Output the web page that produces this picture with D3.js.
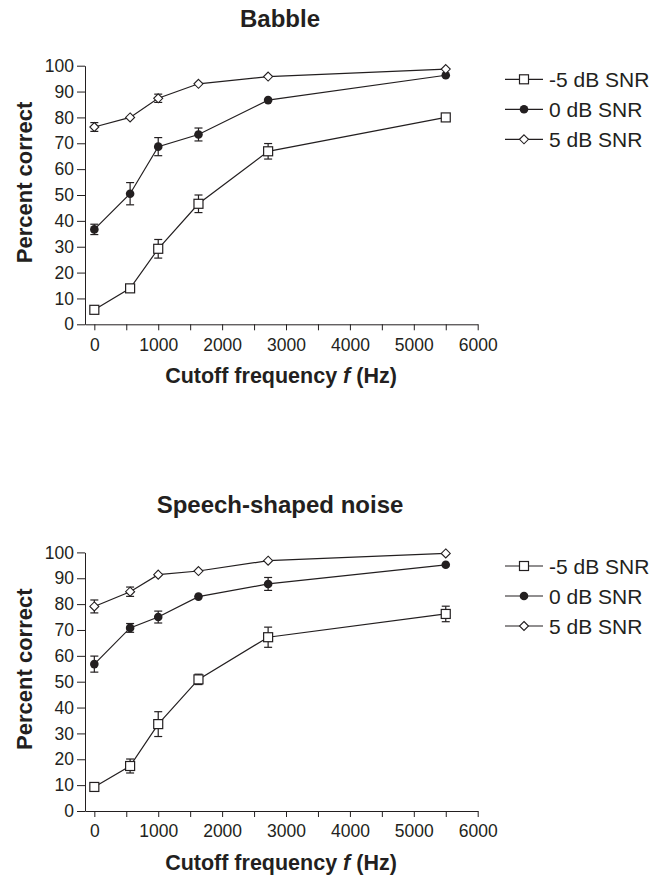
<!DOCTYPE html>
<html lang="en">
<head>
<meta charset="UTF-8">
<title>Percent correct vs cutoff frequency</title>
<style>
  body { margin: 0; background: #fff; }
  svg text { font-family: "Liberation Sans", Arial, sans-serif; fill: #231f20; }
  .axis path, .axis line { stroke: #231f20; stroke-width: 1px; }
  .series { fill: none; stroke: #231f20; stroke-width: 1.2px; }
  .err { stroke: #231f20; stroke-width: 1.2px; }
</style>
</head>
<body>
<div id="chart"></div>
<script src="https://d3js.org/d3.v7.min.js"></script>
<script>
// cutoff frequencies (Hz)
var freqs = [0, 560, 1000, 1630, 2720, 5500];
var seriesNames = ["-5 dB SNR", "0 dB SNR", "5 dB SNR"];
var panelTitles = ["Babble", "Speech-shaped noise"];
var yTicks = [0, 10, 20, 30, 40, 50, 60, 70, 80, 90, 100];
var xTicks = [0, 500, 1000, 1500, 2000, 2500, 3000, 3500, 4000, 4500, 5000, 5500, 6000];

// Babble
var babbleM5 = [5.6, 13.9, 29.2, 46.6, 66.9, 80.0];
var babbleM5Err = [0.8, 1.0, 3.6, 3.4, 3.0, 1.0];
var babble0 = [36.7, 50.5, 68.7, 73.4, 86.7, 96.3];
var babble0Err = [2.0, 4.3, 3.5, 2.5, 0, 0];
var babble5 = [76.3, 80.0, 87.4, 93.0, 95.8, 98.7];
var babble5Err = [1.7, 0, 1.6, 0, 0, 0];

// Speech-shaped noise
var ssnM5 = [9.3, 17.4, 33.6, 50.9, 67.2, 76.2];
var ssnM5Err = [0, 2.7, 4.8, 2.0, 3.9, 3.0];
var ssn0 = [56.8, 70.8, 75.0, 82.9, 87.8, 95.2];
var ssn0Err = [3.1, 1.7, 2.3, 0, 2.5, 0];
var ssn5 = [79.1, 84.8, 91.4, 92.8, 96.8, 99.6];
var ssn5Err = [2.5, 1.8, 0, 0, 0, 0];

var panels = [
    { title: panelTitles[0], means: [babbleM5, babble0, babble5], errs: [babbleM5Err, babble0Err, babble5Err] },
    { title: panelTitles[1], means: [ssnM5, ssn0, ssn5], errs: [ssnM5Err, ssn0Err, ssn5Err] }
];

var W = 652, H = 877;
var svg = d3.select("#chart").append("svg")
    .attr("width", W)
    .attr("height", H);

var x = d3.scaleLinear().domain([-146, 6000]).range([85, 477.7]);
var plotTop = 65.7, plotBottom = 324.3, panelOffset = 486.7;

function drawMarker(sel, k) {
    if (k === 0) {
        sel.append("rect")
            .attr("x", -4.5).attr("y", -4.5)
            .attr("width", 9).attr("height", 9)
            .attr("fill", "#fff").attr("stroke", "#231f20").attr("stroke-width", 1.2);
    } else if (k === 1) {
        sel.append("circle")
            .attr("r", 4.3)
            .attr("fill", "#231f20");
    } else {
        sel.append("path")
            .attr("d", "M0,-4.5L4.5,0L0,4.5L-4.5,0Z")
            .attr("fill", "#fff").attr("stroke", "#231f20").attr("stroke-width", 1.1);
    }
}

panels.forEach(function (p, pi) {
    var g = svg.append("g").attr("transform", "translate(0," + (pi * panelOffset) + ")");
    var y = d3.scaleLinear().domain([0, 100]).range([plotBottom, plotTop]);

    // title
    g.append("text")
        .attr("x", 280).attr("y", 26.7)
        .attr("text-anchor", "middle")
        .style("font-size", "24px").style("font-weight", "bold")
        .text(p.title);

    // axes
    g.append("g")
        .attr("class", "axis")
        .attr("transform", "translate(85,0)")
        .call(d3.axisLeft(y).tickValues(yTicks).tickSize(8).tickPadding(3).tickSizeOuter(0))
        .selectAll("text").style("font-size", "17.5px");

    g.append("g")
        .attr("class", "axis")
        .attr("transform", "translate(0," + plotBottom + ")")
        .call(d3.axisBottom(x).tickValues(xTicks).tickSize(6).tickPadding(8).tickSizeOuter(0)
            .tickFormat(function (d) { return d % 1000 === 0 ? d : ""; }))
        .selectAll("text").style("font-size", "17.5px");

    g.selectAll(".axis .domain").attr("stroke", "#231f20");

    // axis titles
    g.append("text")
        .attr("transform", "rotate(-90)")
        .attr("x", -182.5).attr("y", 32)
        .attr("text-anchor", "middle")
        .style("font-size", "22px").style("font-weight", "bold")
        .text("Percent correct");

    var xt = g.append("text")
        .attr("x", 281).attr("y", 383.3)
        .attr("text-anchor", "middle")
        .style("font-size", "21.5px").style("font-weight", "bold");
    xt.append("tspan").text("Cutoff frequency ");
    xt.append("tspan").style("font-style", "italic").text("f");
    xt.append("tspan").text(" (Hz)");

    var line = d3.line()
        .x(function (d) { return x(d.f); })
        .y(function (d) { return y(d.m); });

    p.means.forEach(function (means, k) {
        var pts = freqs.map(function (f, i) {
            return { f: f, m: means[i], e: p.errs[k][i] };
        });

        g.append("path")
            .datum(pts)
            .attr("class", "series")
            .attr("d", line);

        // error bars
        var eb = g.selectAll(".eb" + k)
            .data(pts.filter(function (d) { return d.e > 0; }))
            .enter().append("g");
        eb.append("line").attr("class", "err")
            .attr("x1", function (d) { return x(d.f); })
            .attr("x2", function (d) { return x(d.f); })
            .attr("y1", function (d) { return y(d.m - d.e); })
            .attr("y2", function (d) { return y(d.m + d.e); });
        [-1, 1].forEach(function (s) {
            eb.append("line").attr("class", "err")
                .attr("x1", function (d) { return x(d.f) - 4; })
                .attr("x2", function (d) { return x(d.f) + 4; })
                .attr("y1", function (d) { return y(d.m + s * d.e); })
                .attr("y2", function (d) { return y(d.m + s * d.e); });
        });

        g.selectAll(".mk" + k)
            .data(pts)
            .enter().append("g")
            .attr("transform", function (d) { return "translate(" + x(d.f) + "," + y(d.m) + ")"; })
            .each(function () { drawMarker(d3.select(this), k); });

        // legend
        var ly = 79.3 + k * 30;
        var lg = g.append("g").attr("transform", "translate(0," + ly + ")");
        lg.append("line")
            .attr("x1", 505).attr("x2", 543)
            .attr("stroke", "#231f20").attr("stroke-width", 1.2);
        var m = lg.append("g").attr("transform", "translate(524,0)");
        drawMarker(m, k);
        lg.append("text")
            .attr("x", 549).attr("y", 0).attr("dy", "0.36em")
            .style("font-size", "21px")
            .text(seriesNames[k]);
    });
});
</script>
</body>
</html>
